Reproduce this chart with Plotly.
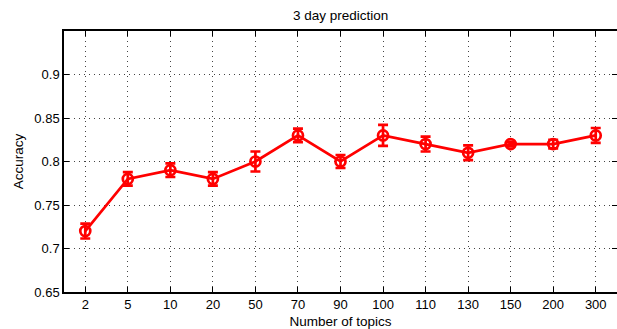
import plotly.graph_objects as go

topics = ["2", "5", "10", "20", "50", "70", "90", "100", "110", "130", "150", "200", "300"]
accuracy = [0.72, 0.78, 0.79, 0.78, 0.80, 0.83, 0.80, 0.83, 0.82, 0.81, 0.82, 0.82, 0.83]
error = [0.0085, 0.0078, 0.0078, 0.0078, 0.0115, 0.0078, 0.0075, 0.012, 0.0085, 0.0085, 0.0025, 0.005, 0.0085]
y_ticks = [0.65, 0.7, 0.75, 0.8, 0.85, 0.9]
y_labels = ["0.65", "0.7", "0.75", "0.8", "0.85", "0.9"]

RED = "#ff0000"
FONT = "Liberation Sans, Arial, sans-serif"

fig = go.Figure()
fig.add_trace(go.Scatter(
    x=topics, y=accuracy,
    mode="lines+markers",
    line=dict(color=RED, width=2.7),
    marker=dict(symbol="circle-open", size=10, color=RED, line=dict(color=RED, width=2.7)),
    error_y=dict(type="data", array=error, visible=True, color=RED, thickness=2.7, width=5),
    showlegend=False,
))

fig.update_layout(
    width=617, height=329,
    margin=dict(l=64, r=0, t=31, b=37, autoexpand=False),
    paper_bgcolor="white", plot_bgcolor="white",
    font=dict(family=FONT, size=13, color="black"),
    title=dict(text="3 day prediction", x=0.552, xanchor="center", y=0.955, yanchor="middle",
               font=dict(size=13.5, family=FONT, color="black")),
)
fig.update_xaxes(
    type="category", range=[-0.5, 12.5], automargin=False,
    showline=True, linecolor="black", linewidth=1.5, mirror="allticks",
    ticks="inside", ticklen=5, tickcolor="black", tickwidth=1,
    showgrid=True, gridcolor="#444444", gridwidth=1, griddash="1px,4px",
    tickfont=dict(size=13),
    title=dict(text="Number of topics", font=dict(size=13.5), standoff=6),
    zeroline=False,
)
fig.update_yaxes(
    range=[0.65, 0.95], tickvals=y_ticks, ticktext=y_labels, automargin=False,
    showline=True, linecolor="black", linewidth=1.5, mirror="allticks",
    ticks="inside", ticklen=5, tickcolor="black", tickwidth=1,
    showgrid=True, gridcolor="#444444", gridwidth=1, griddash="1px,4px",
    tickfont=dict(size=13),
    title=dict(text="Accuracy", font=dict(size=13.5), standoff=8),
    zeroline=False,
)

# remove the browser's default body margin so the figure fills the window exactly
fig.write_html(
    "out.html",
    config={"displayModeBar": False},
    post_script="document.body.style.margin='0';document.body.style.overflow='hidden';",
)
